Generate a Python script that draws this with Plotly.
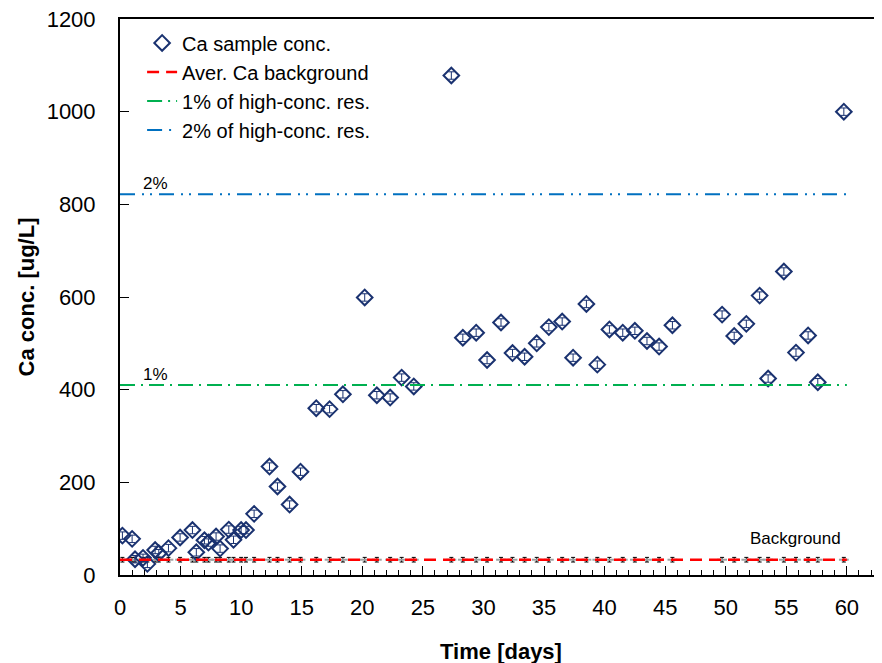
import plotly.graph_objects as go

# sampling days and Ca concentration of the samples [ug/L]
days = [0.2, 1.0, 1.24, 1.9, 2.26, 2.9, 3.2, 4.0, 4.96, 5.98, 6.3, 6.97, 7.3, 7.93, 8.26,
        8.98, 9.37, 10.0, 10.4, 11.07, 12.34, 13.0, 14.0, 14.9, 16.2, 17.3, 18.4, 20.2,
        21.2, 22.3, 23.25, 24.25, 27.35, 28.3, 29.4, 30.3, 31.45, 32.4, 33.4, 34.4, 35.4,
        36.5, 37.4, 38.5, 39.4, 40.4, 41.5, 42.5, 43.5, 44.5, 45.6, 49.7, 50.7, 51.7,
        52.8, 53.5, 54.8, 55.8, 56.8, 57.6, 59.75]
ca_conc = [85, 78, 34, 37, 24, 54, 47, 58, 81, 97, 49, 75, 70, 83, 57,
           98, 76, 97, 97, 132, 234, 191, 152, 223, 360, 358, 390, 599,
           388, 383, 426, 407, 1078, 512, 523, 464, 545, 479, 471, 500, 535,
           547, 469, 585, 454, 530, 523, 527, 505, 493, 539, 562, 516, 542,
           603, 424, 655, 480, 517, 416, 1000]
ca_err = 8

bg_days = days
bg_conc = [33] * len(days)
bg_err = 5
bg_mean = 33
line_x = [0, 60]

level_1pct = 410
level_2pct = 822

navy = "#1a3270"

fig = go.Figure()

fig.add_trace(go.Scatter(
    x=bg_days, y=bg_conc, mode="markers", showlegend=False,
    marker=dict(symbol="line-ew-open", size=7, color="#a0a0a0", line=dict(width=2, color="#a0a0a0")),
    error_y=dict(type="constant", value=bg_err, color="black", thickness=1, width=2),
))
fig.add_trace(go.Scatter(
    x=days, y=ca_conc, mode="markers", name="Ca sample conc.",
    marker=dict(symbol="diamond-open", size=12, color=navy, line=dict(width=2, color=navy)),
    error_y=dict(type="constant", value=ca_err, color=navy, thickness=1, width=3),
))
fig.add_trace(go.Scatter(
    x=line_x, y=[bg_mean] * 2, mode="lines", name="Aver. Ca background",
    line=dict(color="#ff0000", width=2.5, dash="12px,7px"),
))
fig.add_trace(go.Scatter(
    x=line_x, y=[level_1pct] * 2, mode="lines", name="1% of high-conc. res.",
    line=dict(color="#00b050", width=2, dash="15px,6px,2px,6px"),
))
fig.add_trace(go.Scatter(
    x=line_x, y=[level_2pct] * 2, mode="lines", name="2% of high-conc. res.",
    line=dict(color="#0070c0", width=2, dash="15px,7px,2px,6px,2px,7px"),
))

fig.add_annotation(x=2.9, y=level_1pct, text="1%", showarrow=False, yshift=11,
                   font=dict(size=17, color="black"))
fig.add_annotation(x=2.9, y=level_2pct, text="2%", showarrow=False, yshift=11,
                   font=dict(size=17, color="black"))
fig.add_annotation(x=55.8, y=bg_mean, text="Background", showarrow=False, yshift=21,
                   font=dict(size=17, color="black"))

# the page body adds an 8px offset, margins compensate for it
fig.update_layout(
    width=882, height=663,
    margin=dict(l=112, r=8, t=11, b=96),
    paper_bgcolor="white", plot_bgcolor="white",
    font=dict(family="Liberation Sans, Arial, sans-serif", size=20, color="black"),
    legend=dict(x=0.029, y=0.992, xanchor="left", yanchor="top", bgcolor="rgba(0,0,0,0)",
                font=dict(size=20), tracegroupgap=0, itemwidth=30),
)
fig.update_xaxes(
    range=[0, 62.9], dtick=5, ticks="inside", ticklen=9, tickcolor="black",
    showline=True, linecolor="black", linewidth=2, mirror=True, showgrid=False, zeroline=False,
    minor=dict(dtick=1, ticks="inside", ticklen=5, tickcolor="black"),
    title=dict(text="<b>Time [days]</b>", standoff=24, font=dict(size=22)),
    tickfont=dict(size=22), ticklabelstandoff=12, automargin=False,
)
fig.update_yaxes(
    range=[0, 1200], dtick=200, ticks="inside", ticklen=9, tickcolor="black",
    showline=True, linecolor="black", linewidth=2, mirror=True, showgrid=False, zeroline=False,
    title=dict(text="<b>Ca conc. [ug/L]</b>", standoff=6, font=dict(size=22)),
    tickfont=dict(size=22), ticklabelstandoff=18, automargin=False,
    ticklabeloverflow="allow",
)

fig.write_html("out.html")
